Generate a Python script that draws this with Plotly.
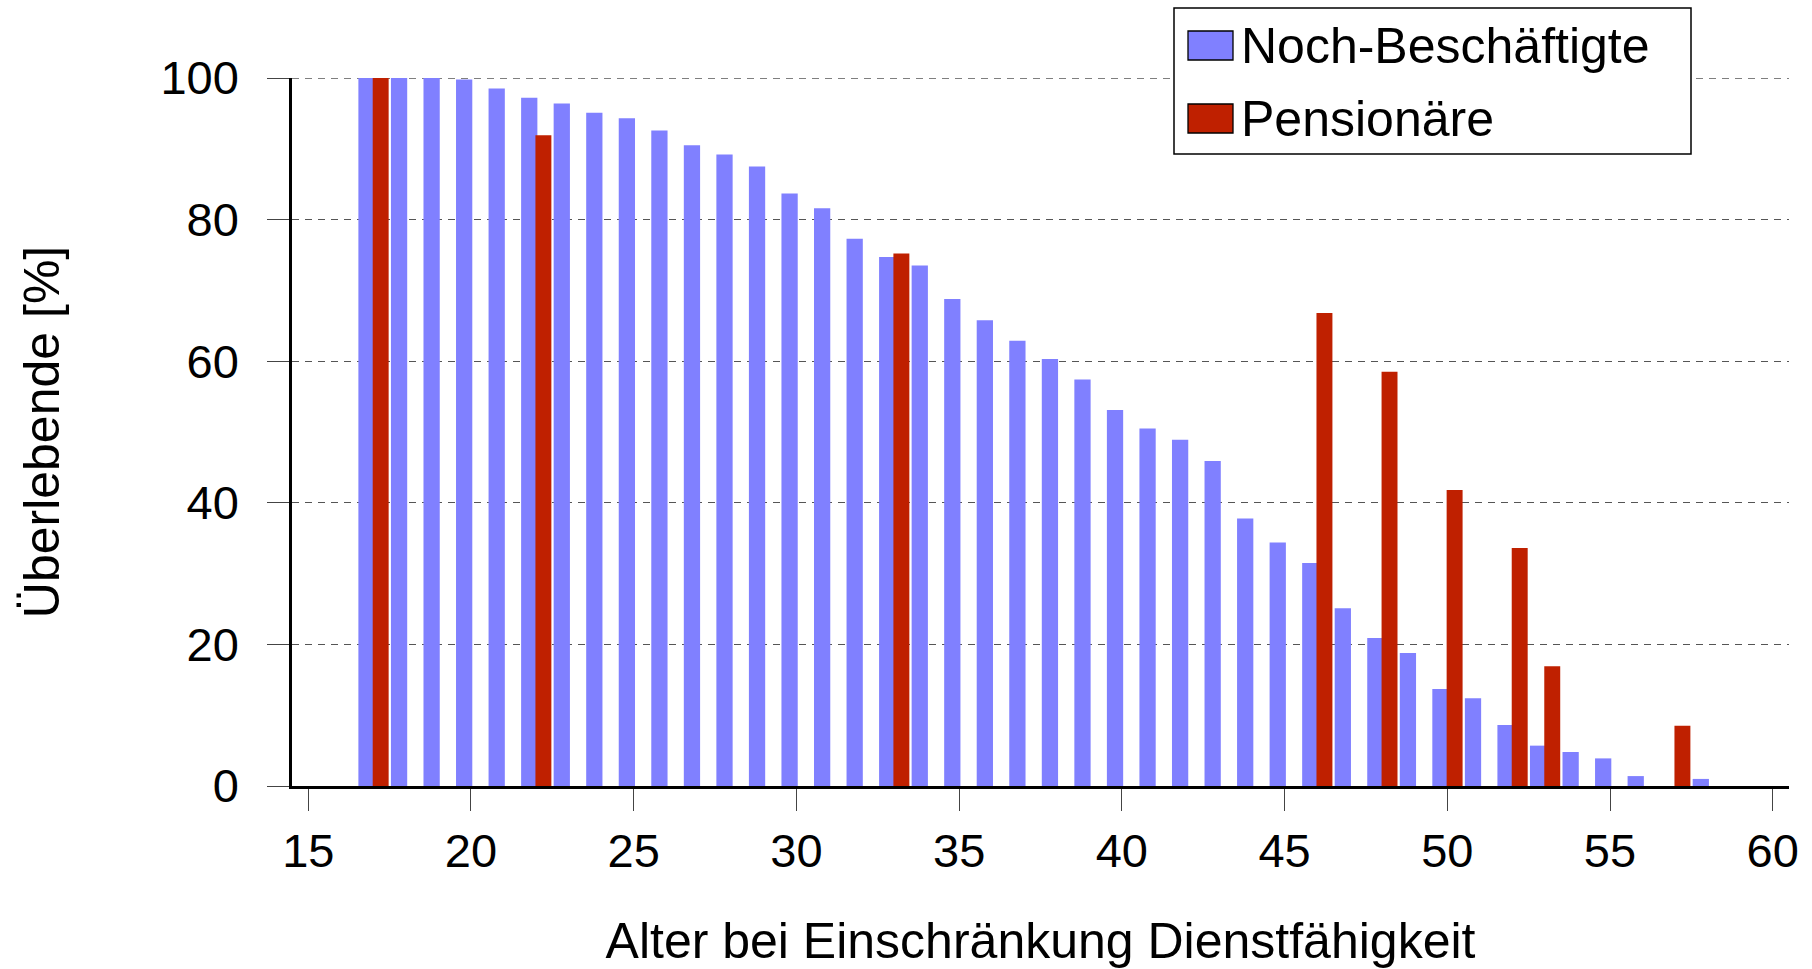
import plotly.graph_objects as go

# ---------------- data ----------------
ages_employed = list(range(17, 59))
employed = [100.0, 100.0, 100.0, 99.8, 98.5, 97.2, 96.4, 95.1, 94.3, 92.6,
            90.5, 89.2, 87.5, 83.7, 81.6, 77.3, 74.7, 73.5, 68.8, 65.8,
            62.9, 60.3, 57.4, 53.1, 50.5, 48.9, 45.9, 37.8, 34.4, 31.5,
            25.1, 20.9, 18.8, 13.7, 12.4, 8.6, 5.7, 4.8, 3.9, 1.4,
            0.0, 1.0]
ages_pension = [17, 22, 33, 46, 48, 50, 52, 53, 57]
pension = [100.0, 91.9, 75.2, 66.8, 58.5, 41.8, 33.6, 16.9, 8.5]

x_ticks = [15, 20, 25, 30, 35, 40, 45, 50, 55, 60]
y_ticks = [0, 20, 40, 60, 80, 100]

name_employed = "Noch-Beschäftigte"
name_pension = "Pensionäre"
x_title = "Alter bei Einschränkung Dienstfähigkeit"
y_title = "Überlebende [%]"

# ---------------- style ----------------
BLUE = "#8080FF"
RED = "#BF2000"
GRID = "#555555"
FONT = "Liberation Sans"

W, H = 1812, 969
PL, PR, PT, PB = 292, 1789, 78, 786   # plot area in pixels


def px_x(p):
    return (p - PL) / (PR - PL)


def px_y(p):
    return (PB - p) / (PB - PT)


fig = go.Figure()
fig.add_trace(go.Bar(x=ages_employed, y=employed, name=name_employed,
                     marker=dict(color=BLUE, line=dict(width=0)),
                     offset=-0.46, width=0.5, showlegend=False))
fig.add_trace(go.Bar(x=ages_pension, y=pension, name=name_pension,
                     marker=dict(color=RED, line=dict(width=0)),
                     offset=-0.02, width=0.49, showlegend=False))

fig.update_layout(
    width=W, height=H,
    margin=dict(l=PL, r=W - PR, t=PT, b=H - PB, pad=0, autoexpand=False),
    paper_bgcolor="white", plot_bgcolor="white",
    barmode="overlay",
    font=dict(family=FONT, size=47, color="black"),
    showlegend=False,
)

fig.update_xaxes(
    range=[14.5, 60.5], tickvals=x_ticks, ticktext=[str(v) for v in x_ticks],
    showline=True, linecolor="black", linewidth=2.5,
    ticks="outside", ticklen=22, tickwidth=1.3, tickcolor="#444",
    ticklabelstandoff=0, automargin=False,
    showgrid=False, zeroline=False,
    tickfont=dict(size=47),
    title=dict(text=x_title, font=dict(size=50), standoff=49),
)
fig.update_yaxes(
    range=[0, 100], tickvals=y_ticks, ticktext=[str(v) for v in y_ticks],
    showline=True, linecolor="black", linewidth=2.5,
    ticks="outside", ticklen=22, tickwidth=1.3, tickcolor="#444",
    ticklabelstandoff=19, automargin=False,
    showgrid=True, gridcolor=GRID, gridwidth=1.3, griddash="7px,6px",
    zeroline=False,
    tickfont=dict(size=47),
    title=dict(text=y_title, font=dict(size=50), standoff=85),
)

# grid line at the top tick (plotly skips grid lines on the plot edge)
fig.add_shape(type="line", xref="paper", yref="y", x0=0, x1=1,
              y0=y_ticks[-1], y1=y_ticks[-1], layer="below",
              line=dict(color=GRID, width=1.3, dash="7px,6px"))

# ---------------- legend (box, swatches, labels) ----------------
fig.add_shape(type="rect", xref="paper", yref="paper",
              x0=px_x(1174), x1=px_x(1691), y0=px_y(154), y1=px_y(8),
              line=dict(color="black", width=1.5), fillcolor="white", layer="above")
for (top, bottom, col, label, cy) in [(31, 60, BLUE, name_employed, 46),
                                      (104, 133, RED, name_pension, 119)]:
    fig.add_shape(type="rect", xref="paper", yref="paper",
                  x0=px_x(1188), x1=px_x(1233), y0=px_y(bottom), y1=px_y(top),
                  line=dict(color="black", width=1.3), fillcolor=col, layer="above")
    fig.add_annotation(xref="paper", yref="paper", x=px_x(1239), y=px_y(cy),
                       xanchor="left", yanchor="middle", text=label,
                       showarrow=False, font=dict(size=50, color="black"))

fig.write_html("out.html", config={"displayModeBar": False},
               post_script="document.body.style.margin='0';document.body.style.overflow='hidden';")
